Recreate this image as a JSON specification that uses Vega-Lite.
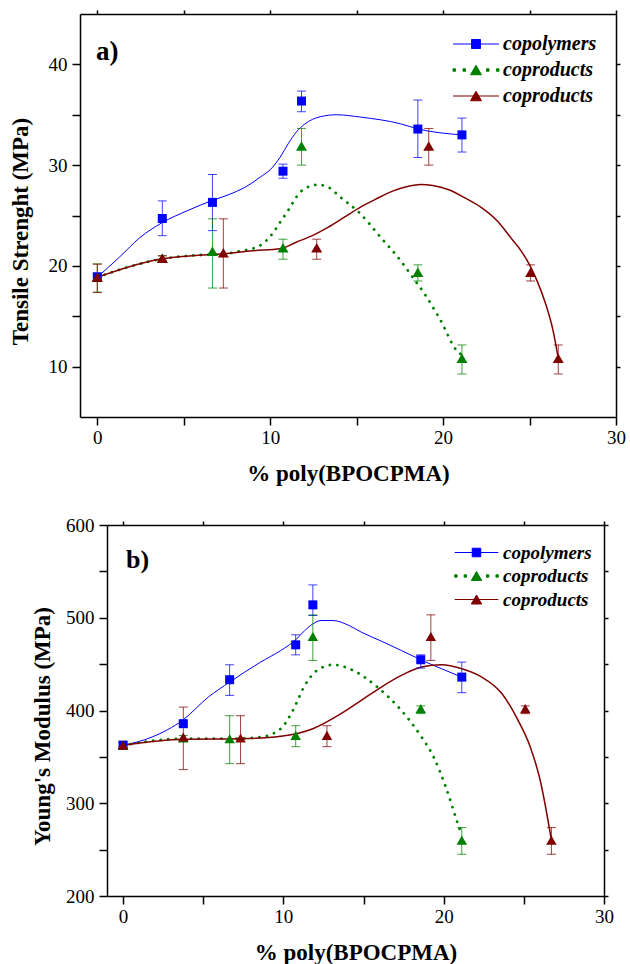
{
"$schema": "https://vega.github.io/schema/vega-lite/v6.json",
"padding": {"left": 9, "top": 9, "right": 2, "bottom": 2},
"config": {
  "view": {"stroke": null},
  "axis": {"domainColor": "black", "domainWidth": 1.5, "tickColor": "black", "tickWidth": 1.5, "labelFont": "Liberation Serif", "labelFontSize": 19, "labelColor": "black", "titleFont": "Liberation Serif", "titleFontSize": 23, "titleFontWeight": "bold", "titleColor": "black", "grid": false, "labelFlush": false, "labelOverlap": false},
  "legend": {"labelFont": "Liberation Serif", "labelFontStyle": "italic", "labelFontWeight": "bold", "labelColor": "black"},
  "title": {"font": "Liberation Serif", "fontWeight": "bold", "color": "black", "anchor": "start", "frame": "group", "orient": "top", "baseline": "bottom"}
},
"datasets": {
  "pa": [
    {"series": "copolymers", "x": 0, "y": 18.9, "lo": 18.5, "hi": 19.3},
    {"series": "copolymers", "x": 3.76, "y": 24.7, "lo": 23.0, "hi": 26.45},
    {"series": "copolymers", "x": 6.66, "y": 26.3, "lo": 23.5, "hi": 29.07},
    {"series": "copolymers", "x": 10.74, "y": 29.4, "lo": 28.7, "hi": 30.1},
    {"series": "copolymers", "x": 11.81, "y": 36.36, "lo": 35.3, "hi": 37.35},
    {"series": "copolymers", "x": 18.54, "y": 33.58, "lo": 30.76, "hi": 36.46},
    {"series": "copolymers", "x": 21.09, "y": 33.0, "lo": 31.3, "hi": 34.67},
    {"series": "coproducts A", "x": 0, "y": 18.87, "lo": 17.4, "hi": 20.2},
    {"series": "coproducts A", "x": 3.76, "y": 20.76, "lo": 20.5, "hi": 21.0},
    {"series": "coproducts A", "x": 6.66, "y": 21.46, "lo": 17.8, "hi": 24.67},
    {"series": "coproducts A", "x": 10.74, "y": 21.8, "lo": 20.66, "hi": 22.65},
    {"series": "coproducts A", "x": 11.81, "y": 31.9, "lo": 30.0, "hi": 33.64},
    {"series": "coproducts A", "x": 18.54, "y": 19.37, "lo": 18.5, "hi": 20.1},
    {"series": "coproducts A", "x": 21.09, "y": 10.83, "lo": 9.27, "hi": 12.15},
    {"series": "coproducts B", "x": 0, "y": 18.87, "lo": 17.35, "hi": 20.17},
    {"series": "coproducts B", "x": 3.76, "y": 20.76, "lo": 20.5, "hi": 21.0},
    {"series": "coproducts B", "x": 7.29, "y": 21.3, "lo": 17.8, "hi": 24.67},
    {"series": "coproducts B", "x": 12.69, "y": 21.8, "lo": 20.66, "hi": 22.65},
    {"series": "coproducts B", "x": 19.17, "y": 31.9, "lo": 30.0, "hi": 33.64},
    {"series": "coproducts B", "x": 25.06, "y": 19.37, "lo": 18.5, "hi": 20.1},
    {"series": "coproducts B", "x": 26.66, "y": 10.83, "lo": 9.27, "hi": 12.15}
  ],
  "ca": [
    {"series": "copolymers", "x": 0, "y": 18.87},
    {"series": "copolymers", "x": 1.3, "y": 20.9},
    {"series": "copolymers", "x": 2.46, "y": 22.8},
    {"series": "copolymers", "x": 3.76, "y": 24.3},
    {"series": "copolymers", "x": 5.24, "y": 25.5},
    {"series": "copolymers", "x": 6.66, "y": 26.5},
    {"series": "copolymers", "x": 7.8, "y": 27.2},
    {"series": "copolymers", "x": 8.72, "y": 27.98},
    {"series": "copolymers", "x": 9.42, "y": 28.81},
    {"series": "copolymers", "x": 10.0, "y": 29.54},
    {"series": "copolymers", "x": 10.58, "y": 30.8},
    {"series": "copolymers", "x": 11.04, "y": 32.12},
    {"series": "copolymers", "x": 11.51, "y": 33.28},
    {"series": "copolymers", "x": 11.97, "y": 34.04},
    {"series": "copolymers", "x": 12.44, "y": 34.54},
    {"series": "copolymers", "x": 12.9, "y": 34.8},
    {"series": "copolymers", "x": 13.83, "y": 35.0},
    {"series": "copolymers", "x": 15.22, "y": 34.77},
    {"series": "copolymers", "x": 17.54, "y": 34.1},
    {"series": "copolymers", "x": 18.54, "y": 33.6},
    {"series": "copolymers", "x": 21.09, "y": 33.0},
    {"series": "coproducts A", "x": 0, "y": 18.87},
    {"series": "coproducts A", "x": 1.76, "y": 19.87},
    {"series": "coproducts A", "x": 3.76, "y": 20.7},
    {"series": "coproducts A", "x": 5.48, "y": 21.03},
    {"series": "coproducts A", "x": 7.33, "y": 21.19},
    {"series": "coproducts A", "x": 8.26, "y": 21.46},
    {"series": "coproducts A", "x": 9.42, "y": 22.02},
    {"series": "coproducts A", "x": 10.12, "y": 23.18},
    {"series": "coproducts A", "x": 10.58, "y": 24.34},
    {"series": "coproducts A", "x": 11.04, "y": 25.5},
    {"series": "coproducts A", "x": 11.51, "y": 26.82},
    {"series": "coproducts A", "x": 11.97, "y": 27.65},
    {"series": "coproducts A", "x": 12.78, "y": 28.05},
    {"series": "coproducts A", "x": 13.36, "y": 27.81},
    {"series": "coproducts A", "x": 14.06, "y": 26.82},
    {"series": "coproducts A", "x": 15.22, "y": 25.17},
    {"series": "coproducts A", "x": 16.38, "y": 22.85},
    {"series": "coproducts A", "x": 17.54, "y": 20.53},
    {"series": "coproducts A", "x": 18.24, "y": 18.87},
    {"series": "coproducts A", "x": 18.93, "y": 17.22},
    {"series": "coproducts A", "x": 19.86, "y": 14.57},
    {"series": "coproducts A", "x": 20.79, "y": 11.59},
    {"series": "coproducts A", "x": 21.0, "y": 11.26},
    {"series": "coproducts B", "x": 0, "y": 18.87},
    {"series": "coproducts B", "x": 1.76, "y": 19.87},
    {"series": "coproducts B", "x": 3.76, "y": 20.7},
    {"series": "coproducts B", "x": 5.48, "y": 21.0},
    {"series": "coproducts B", "x": 7.33, "y": 21.2},
    {"series": "coproducts B", "x": 9.0, "y": 21.5},
    {"series": "coproducts B", "x": 10.58, "y": 21.69},
    {"series": "coproducts B", "x": 11.5, "y": 22.35},
    {"series": "coproducts B", "x": 12.44, "y": 23.0},
    {"series": "coproducts B", "x": 13.36, "y": 23.84},
    {"series": "coproducts B", "x": 14.29, "y": 24.83},
    {"series": "coproducts B", "x": 15.22, "y": 25.83},
    {"series": "coproducts B", "x": 16.15, "y": 26.66},
    {"series": "coproducts B", "x": 17.08, "y": 27.42},
    {"series": "coproducts B", "x": 18.0, "y": 27.91},
    {"series": "coproducts B", "x": 18.7, "y": 28.08},
    {"series": "coproducts B", "x": 19.4, "y": 27.98},
    {"series": "coproducts B", "x": 20.33, "y": 27.55},
    {"series": "coproducts B", "x": 21.26, "y": 26.75},
    {"series": "coproducts B", "x": 22.18, "y": 25.83},
    {"series": "coproducts B", "x": 23.11, "y": 24.5},
    {"series": "coproducts B", "x": 24.04, "y": 22.52},
    {"series": "coproducts B", "x": 24.5, "y": 21.52},
    {"series": "coproducts B", "x": 24.97, "y": 20.2},
    {"series": "coproducts B", "x": 25.43, "y": 18.54},
    {"series": "coproducts B", "x": 25.9, "y": 16.39},
    {"series": "coproducts B", "x": 26.36, "y": 13.58},
    {"series": "coproducts B", "x": 26.66, "y": 10.83}
  ],
  "pb": [
    {"series": "copolymers", "x": 0, "y": 362.5, "lo": 360, "hi": 365},
    {"series": "copolymers", "x": 3.76, "y": 385.8, "lo": 383, "hi": 389},
    {"series": "copolymers", "x": 6.65, "y": 433.2, "lo": 416.3, "hi": 449.3},
    {"series": "copolymers", "x": 10.77, "y": 470.8, "lo": 460, "hi": 481.6},
    {"series": "copolymers", "x": 11.84, "y": 513.9, "lo": 502.4, "hi": 535.4},
    {"series": "copolymers", "x": 18.57, "y": 454.7, "lo": 445.7, "hi": 460},
    {"series": "copolymers", "x": 21.13, "y": 436, "lo": 419.2, "hi": 452.2},
    {"series": "coproducts A", "x": 0, "y": 362.5, "lo": 359, "hi": 366.8},
    {"series": "coproducts A", "x": 3.76, "y": 370.5, "lo": 368, "hi": 373},
    {"series": "coproducts A", "x": 6.65, "y": 369.6, "lo": 342.7, "hi": 394.4},
    {"series": "coproducts A", "x": 10.77, "y": 373.2, "lo": 361, "hi": 383.6},
    {"series": "coproducts A", "x": 11.84, "y": 479.8, "lo": 454, "hi": 503.1},
    {"series": "coproducts A", "x": 18.57, "y": 402, "lo": 396.6, "hi": 405},
    {"series": "coproducts A", "x": 21.13, "y": 260.2, "lo": 245, "hi": 273.8},
    {"series": "coproducts B", "x": 0, "y": 362.5, "lo": 358.9, "hi": 366.8},
    {"series": "coproducts B", "x": 3.76, "y": 371.4, "lo": 336.3, "hi": 403.7},
    {"series": "coproducts B", "x": 7.33, "y": 370.4, "lo": 342.7, "hi": 394.4},
    {"series": "coproducts B", "x": 12.72, "y": 373.2, "lo": 361, "hi": 383.6},
    {"series": "coproducts B", "x": 19.2, "y": 479.8, "lo": 454, "hi": 503.1},
    {"series": "coproducts B", "x": 25.09, "y": 402, "lo": 396.6, "hi": 405},
    {"series": "coproducts B", "x": 26.72, "y": 260.2, "lo": 245, "hi": 273.8}
  ],
  "cb": [
    {"series": "copolymers", "x": 0, "y": 362.5},
    {"series": "copolymers", "x": 1.81, "y": 371.4},
    {"series": "copolymers", "x": 3.76, "y": 390.1},
    {"series": "copolymers", "x": 5.32, "y": 414.5},
    {"series": "copolymers", "x": 6.65, "y": 430.6},
    {"series": "copolymers", "x": 8.58, "y": 452.2},
    {"series": "copolymers", "x": 9.84, "y": 464.7},
    {"series": "copolymers", "x": 10.77, "y": 476.2},
    {"series": "copolymers", "x": 11.34, "y": 486.3},
    {"series": "copolymers", "x": 11.84, "y": 493.4},
    {"series": "copolymers", "x": 12.35, "y": 497.0},
    {"series": "copolymers", "x": 13.1, "y": 497.0},
    {"series": "copolymers", "x": 14.1, "y": 491.6},
    {"series": "copolymers", "x": 14.86, "y": 484.5},
    {"series": "copolymers", "x": 16.11, "y": 474.8},
    {"series": "copolymers", "x": 17.36, "y": 464.7},
    {"series": "copolymers", "x": 18.57, "y": 454.7},
    {"series": "copolymers", "x": 19.87, "y": 445.0},
    {"series": "copolymers", "x": 21.13, "y": 436.0},
    {"series": "coproducts A", "x": 0, "y": 362.5},
    {"series": "coproducts A", "x": 3.76, "y": 369.6},
    {"series": "coproducts A", "x": 6.65, "y": 369.6},
    {"series": "coproducts A", "x": 8.58, "y": 371.4},
    {"series": "coproducts A", "x": 9.84, "y": 380.4},
    {"series": "coproducts A", "x": 10.59, "y": 400.1},
    {"series": "coproducts A", "x": 11.34, "y": 427.0},
    {"series": "coproducts A", "x": 12.1, "y": 443.2},
    {"series": "coproducts A", "x": 13.1, "y": 449.3},
    {"series": "coproducts A", "x": 14.35, "y": 443.2},
    {"series": "coproducts A", "x": 15.86, "y": 425.3},
    {"series": "coproducts A", "x": 17.36, "y": 400.1},
    {"series": "coproducts A", "x": 18.62, "y": 371.4},
    {"series": "coproducts A", "x": 19.37, "y": 349.9},
    {"series": "coproducts A", "x": 20.13, "y": 317.6},
    {"series": "coproducts A", "x": 20.88, "y": 278.1},
    {"series": "coproducts A", "x": 21.13, "y": 265.6},
    {"series": "coproducts B", "x": 0, "y": 362.5},
    {"series": "coproducts B", "x": 3.76, "y": 369.0},
    {"series": "coproducts B", "x": 7.33, "y": 369.6},
    {"series": "coproducts B", "x": 9.84, "y": 372.2},
    {"series": "coproducts B", "x": 11.84, "y": 380.4},
    {"series": "coproducts B", "x": 13.6, "y": 396.6},
    {"series": "coproducts B", "x": 14.86, "y": 410.9},
    {"series": "coproducts B", "x": 16.11, "y": 425.3},
    {"series": "coproducts B", "x": 17.36, "y": 437.8},
    {"series": "coproducts B", "x": 18.62, "y": 446.8},
    {"series": "coproducts B", "x": 19.87, "y": 449.3},
    {"series": "coproducts B", "x": 21.13, "y": 445.0},
    {"series": "coproducts B", "x": 22.38, "y": 436.0},
    {"series": "coproducts B", "x": 23.64, "y": 418.1},
    {"series": "coproducts B", "x": 24.64, "y": 389.4},
    {"series": "coproducts B", "x": 25.4, "y": 360.7},
    {"series": "coproducts B", "x": 26.02, "y": 324.8},
    {"series": "coproducts B", "x": 26.72, "y": 260.2}
  ]
},
"spacing": 30,
"resolve": {"scale": {"fill": "independent", "stroke": "independent", "shape": "independent"}, "legend": {"fill": "independent", "stroke": "independent", "shape": "independent"}},
"vconcat": [
{
  "width": 536, "height": 403,
  "title": {"text": "a)", "fontSize": 27, "offset": -57, "dx": 16},
  "resolve": {"axis": {"x": "independent", "y": "independent"}},
  "layer": [
    {
      "encoding": {
        "x": {"field": "x", "type": "quantitative", "scale": {"domain": [-1, 30], "nice": false, "zero": false},
          "axis": {"values": [0, 5, 10, 15, 20, 25, 30], "labelExpr": "datum.value % 10 == 0 ? datum.label : ''", "tickSize": 8, "labelPadding": 3.5, "title": "% poly(BPOCPMA)", "titlePadding": 15,
            "encode": {"ticks": {"y2": {"value": {"expr": "datum.value % 10 == 0 ? 8 : 4"}}}}}},
        "y": {"field": "y", "type": "quantitative", "scale": {"domain": [5, 45], "nice": false, "zero": false},
          "axis": {"values": [10, 15, 20, 25, 30, 35, 40], "labelExpr": "datum.value % 10 == 0 ? datum.label : ''", "tickSize": 8, "labelPadding": 5, "title": "Tensile Strenght (MPa)", "titlePadding": 16, "titleY": 217,
            "encode": {"ticks": {"x2": {"value": {"expr": "datum.value % 10 == 0 ? -8 : -4"}}}}}}
      },
      "layer": [
        {"data": {"name": "ca"}, "transform": [{"filter": "datum.series == 'copolymers'"}], "mark": {"type": "line", "interpolate": "monotone", "color": "#0000ff", "strokeWidth": 1}},
        {"data": {"name": "ca"}, "transform": [{"filter": "datum.series == 'coproducts A'"}], "mark": {"type": "line", "interpolate": "monotone", "color": "#008000", "strokeWidth": 2.8, "strokeCap": "round", "strokeDash": [0.1, 7.5]}},
        {"data": {"name": "ca"}, "transform": [{"filter": "datum.series == 'coproducts B'"}], "mark": {"type": "line", "interpolate": "monotone", "color": "#800000", "strokeWidth": 1.5}},
        {"data": {"name": "pa"}, "mark": {"type": "rule", "strokeWidth": 1, "opacity": 0.75},
          "encoding": {"y": {"field": "lo", "type": "quantitative", "scale": {"domain": [5, 45], "nice": false, "zero": false}}, "y2": {"field": "hi"},
            "color": {"condition": [{"test": "datum.series == 'copolymers'", "value": "#0000ff"}, {"test": "datum.series == 'coproducts A'", "value": "#008000"}], "value": "#800000"}}},
        {"data": {"name": "pa"}, "mark": {"type": "tick", "orient": "horizontal", "size": 9, "thickness": 1, "opacity": 0.75},
          "encoding": {"y": {"field": "lo", "type": "quantitative", "scale": {"domain": [5, 45], "nice": false, "zero": false}},
            "color": {"condition": [{"test": "datum.series == 'copolymers'", "value": "#0000ff"}, {"test": "datum.series == 'coproducts A'", "value": "#008000"}], "value": "#800000"}}},
        {"data": {"name": "pa"}, "mark": {"type": "tick", "orient": "horizontal", "size": 9, "thickness": 1, "opacity": 0.75},
          "encoding": {"y": {"field": "hi", "type": "quantitative", "scale": {"domain": [5, 45], "nice": false, "zero": false}},
            "color": {"condition": [{"test": "datum.series == 'copolymers'", "value": "#0000ff"}, {"test": "datum.series == 'coproducts A'", "value": "#008000"}], "value": "#800000"}}},
        {"data": {"name": "pa"}, "mark": {"type": "point", "filled": true, "opacity": 1, "strokeWidth": 0},
          "encoding": {
            "shape": {"condition": {"test": "datum.series == 'copolymers'", "value": "square"}, "value": "triangle-up"},
            "size": {"condition": {"test": "datum.series == 'copolymers'", "value": 81}, "value": 121},
            "color": {"condition": [{"test": "datum.series == 'copolymers'", "value": "#0000ff"}, {"test": "datum.series == 'coproducts A'", "value": "#008000"}], "value": "#800000"}
          }},
        {"data": {"name": "pa"}, "mark": {"type": "point", "size": 0, "strokeWidth": 1, "opacity": 1},
          "encoding": {
            "fill": {"field": "series", "type": "nominal", "scale": {"domain": ["copolymers", "coproducts A", "coproducts B"], "range": ["#0000ff", "#008000", "#800000"]},
              "legend": {"orient": "none", "legendX": 386, "legendY": 20, "title": null, "padding": 0, "symbolSize": 100, "symbolStrokeWidth": 1, "symbolOpacity": 1, "rowPadding": 6, "labelOffset": 17, "labelFontSize": 20,
                "labelExpr": "datum.label == 'copolymers' ? 'copolymers' : 'coproducts'"}},
            "stroke": {"field": "series", "type": "nominal", "scale": {"domain": ["copolymers", "coproducts A", "coproducts B"], "range": ["#0000ff", "#008000", "#800000"]}},
            "shape": {"field": "series", "type": "nominal", "scale": {"domain": ["copolymers", "coproducts A", "coproducts B"], "range": ["M-4.6,0H4.6M-0.9,-0.9H0.9V0.9H-0.9Z", "M-4.6,-0.25h0.5v0.5h-0.5ZM-2.6,-0.25h0.5v0.5h-0.5ZM2.1,-0.25h0.5v0.5h-0.5ZM4.1,-0.25h0.5v0.5h-0.5ZM0,-0.95L1.1,0.95L-1.1,0.95Z", "M-4.6,0H4.6M0,-0.95L1.1,0.95L-1.1,0.95Z"]}}
          }}
      ]
    },
    {
      "data": {"name": "pa"},
      "mark": {"type": "point", "opacity": 0},
      "encoding": {
        "x": {"field": "x", "type": "quantitative", "scale": {"domain": [-1, 30], "nice": false, "zero": false}, "axis": {"orient": "top", "values": [0, 5, 10, 15, 20, 25, 30], "labels": false, "title": null, "tickSize": 4}},
        "y": {"field": "y", "type": "quantitative", "scale": {"domain": [5, 45], "nice": false, "zero": false}, "axis": {"orient": "right", "values": [10, 15, 20, 25, 30, 35, 40], "labels": false, "title": null, "tickSize": 4}}
      }
    }
  ]
},
{
  "width": 524, "height": 371,
  "title": {"text": "b)", "fontSize": 26, "offset": -57, "dx": 46},
  "resolve": {"axis": {"x": "independent", "y": "independent"}},
  "layer": [
    {
      "encoding": {
        "x": {"field": "x", "type": "quantitative", "scale": {"domain": [-1, 30], "range": [27, 524], "nice": false, "zero": false},
          "axis": {"values": [0, 5, 10, 15, 20, 25, 30], "labelExpr": "datum.value % 10 == 0 ? datum.label : ''", "tickSize": 8, "labelPadding": 3.5, "title": "% poly(BPOCPMA)", "titlePadding": 15,
            "encode": {"ticks": {"y2": {"value": {"expr": "datum.value % 10 == 0 ? 8 : 4"}}}}}},
        "y": {"field": "y", "type": "quantitative", "scale": {"domain": [200, 600], "nice": false, "zero": false},
          "axis": {"values": [200, 250, 300, 350, 400, 450, 500, 550, 600], "labelExpr": "datum.value % 100 == 0 ? datum.label : ''", "tickSize": 8, "labelPadding": 5, "offset": -27, "title": "Young's Modulus (MPa)", "titlePadding": 11, "titleY": 201,
            "encode": {"ticks": {"x2": {"value": {"expr": "datum.value % 100 == 0 ? -8 : -4"}}}}}}
      },
      "layer": [
        {"data": {"name": "cb"}, "transform": [{"filter": "datum.series == 'copolymers'"}], "mark": {"type": "line", "interpolate": "monotone", "color": "#0000ff", "strokeWidth": 1}},
        {"data": {"name": "cb"}, "transform": [{"filter": "datum.series == 'coproducts A'"}], "mark": {"type": "line", "interpolate": "monotone", "color": "#008000", "strokeWidth": 2.8, "strokeCap": "round", "strokeDash": [0.1, 7.5]}},
        {"data": {"name": "cb"}, "transform": [{"filter": "datum.series == 'coproducts B'"}], "mark": {"type": "line", "interpolate": "monotone", "color": "#800000", "strokeWidth": 1.5}},
        {"data": {"name": "pb"}, "mark": {"type": "rule", "strokeWidth": 1, "opacity": 0.75},
          "encoding": {"y": {"field": "lo", "type": "quantitative", "scale": {"domain": [200, 600], "nice": false, "zero": false}}, "y2": {"field": "hi"},
            "color": {"condition": [{"test": "datum.series == 'copolymers'", "value": "#0000ff"}, {"test": "datum.series == 'coproducts A'", "value": "#008000"}], "value": "#800000"}}},
        {"data": {"name": "pb"}, "mark": {"type": "tick", "orient": "horizontal", "size": 9, "thickness": 1, "opacity": 0.75},
          "encoding": {"y": {"field": "lo", "type": "quantitative", "scale": {"domain": [200, 600], "nice": false, "zero": false}},
            "color": {"condition": [{"test": "datum.series == 'copolymers'", "value": "#0000ff"}, {"test": "datum.series == 'coproducts A'", "value": "#008000"}], "value": "#800000"}}},
        {"data": {"name": "pb"}, "mark": {"type": "tick", "orient": "horizontal", "size": 9, "thickness": 1, "opacity": 0.75},
          "encoding": {"y": {"field": "hi", "type": "quantitative", "scale": {"domain": [200, 600], "nice": false, "zero": false}},
            "color": {"condition": [{"test": "datum.series == 'copolymers'", "value": "#0000ff"}, {"test": "datum.series == 'coproducts A'", "value": "#008000"}], "value": "#800000"}}},
        {"data": {"name": "pb"}, "mark": {"type": "point", "filled": true, "opacity": 1, "strokeWidth": 0},
          "encoding": {
            "shape": {"condition": {"test": "datum.series == 'copolymers'", "value": "square"}, "value": "triangle-up"},
            "size": {"condition": {"test": "datum.series == 'copolymers'", "value": 81}, "value": 110},
            "color": {"condition": [{"test": "datum.series == 'copolymers'", "value": "#0000ff"}, {"test": "datum.series == 'coproducts A'", "value": "#008000"}], "value": "#800000"}
          }},
        {"data": {"name": "pb"}, "mark": {"type": "point", "size": 0, "strokeWidth": 1, "opacity": 1},
          "encoding": {
            "fill": {"field": "series", "type": "nominal", "scale": {"domain": ["copolymers", "coproducts A", "coproducts B"], "range": ["#0000ff", "#008000", "#800000"]},
              "legend": {"orient": "none", "legendX": 387, "legendY": 18, "title": null, "padding": 0, "symbolSize": 90, "symbolStrokeWidth": 1, "symbolOpacity": 1, "rowPadding": 3.5, "labelOffset": 17, "labelFontSize": 19,
                "labelExpr": "datum.label == 'copolymers' ? 'copolymers' : 'coproducts'"}},
            "stroke": {"field": "series", "type": "nominal", "scale": {"domain": ["copolymers", "coproducts A", "coproducts B"], "range": ["#0000ff", "#008000", "#800000"]}},
            "shape": {"field": "series", "type": "nominal", "scale": {"domain": ["copolymers", "coproducts A", "coproducts B"], "range": ["M-4.6,0H4.6M-0.9,-0.9H0.9V0.9H-0.9Z", "M-4.6,-0.25h0.5v0.5h-0.5ZM-2.6,-0.25h0.5v0.5h-0.5ZM2.1,-0.25h0.5v0.5h-0.5ZM4.1,-0.25h0.5v0.5h-0.5ZM0,-0.95L1.1,0.95L-1.1,0.95Z", "M-4.6,0H4.6M0,-0.95L1.1,0.95L-1.1,0.95Z"]}}
          }}
      ]
    },
    {
      "data": {"name": "pb"},
      "mark": {"type": "point", "opacity": 0},
      "encoding": {
        "x": {"field": "x", "type": "quantitative", "scale": {"domain": [-1, 30], "range": [27, 524], "nice": false, "zero": false}, "axis": {"orient": "top", "values": [0, 5, 10, 15, 20, 25, 30], "labels": false, "title": null, "tickSize": 4}},
        "y": {"field": "y", "type": "quantitative", "scale": {"domain": [200, 600], "nice": false, "zero": false}, "axis": {"orient": "right", "values": [200, 250, 300, 350, 400, 450, 500, 550, 600], "labels": false, "title": null, "tickSize": 4}}
      }
    }
  ]
}
]
}
